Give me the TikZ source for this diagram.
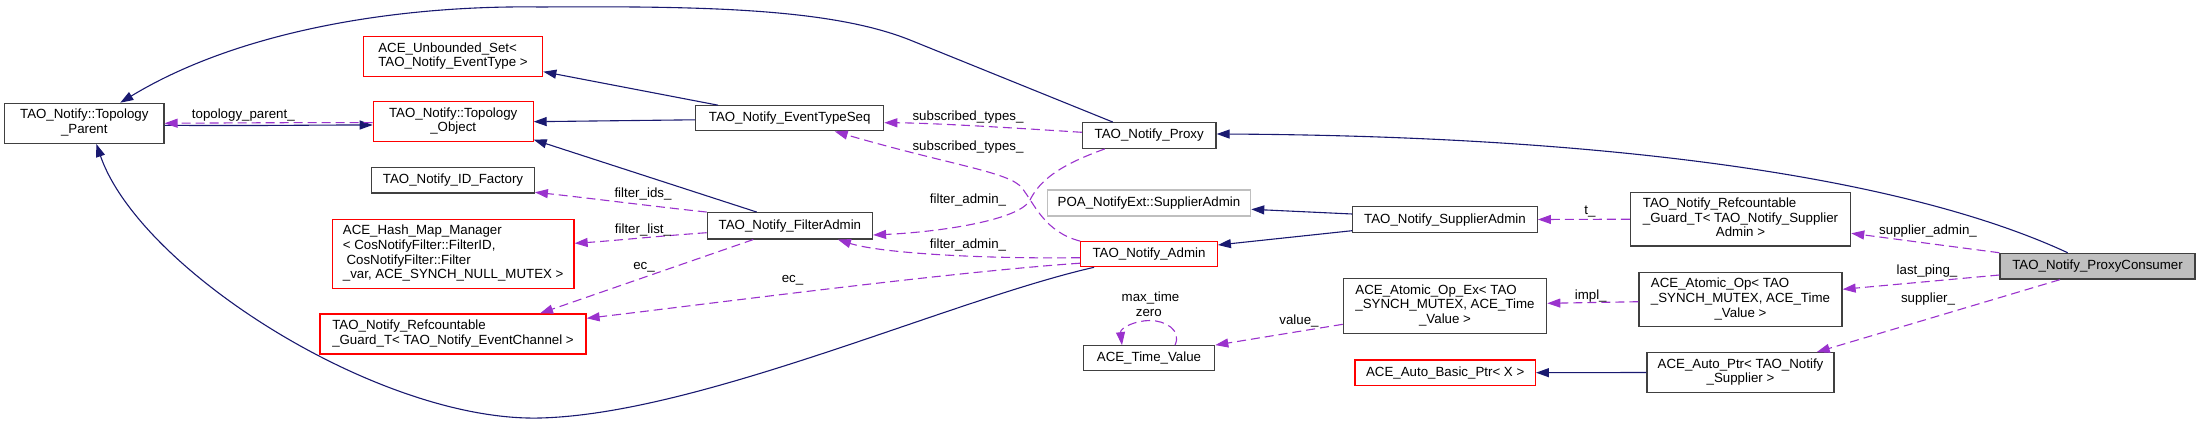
\documentclass[tikz,border=0pt]{standalone}
\usepackage{fontspec}
\setmainfont{Liberation Sans}
\usetikzlibrary{arrows.meta}
\definecolor{edgeblue}{HTML}{191970}
\definecolor{edgepurple}{HTML}{9A32CD}
\definecolor{boxred}{HTML}{FF0000}
\definecolor{boxgray}{HTML}{BFBFBF}
\definecolor{boxdark}{HTML}{404040}
\newcommand\dxl[1]{\begin{tabular}{@{}l@{}}#1\end{tabular}}
\newcommand\dxc[1]{\multicolumn{1}{@{}c@{}}{#1}}
\begin{document}
\begin{tikzpicture}[x=1pt,y=-1pt,
  font=\fontsize{13.3}{14.6}\selectfont,
  box/.style={rectangle, inner sep=0pt, line width=1.2pt, fill=white, align=center},
  one/.style={text height=10pt, text depth=3pt},
  blk/.style={box, draw=boxdark},
  redb/.style={box, draw=boxred},
  grayb/.style={box, draw=boxgray},
  inh/.style={draw=edgeblue, line width=1.1pt, -{Triangle[length=13pt,width=9pt]}},
  mem/.style={draw=edgepurple, line width=1.1pt, dash pattern=on 9pt off 5pt, -{Triangle[length=13pt,width=9pt]}},
  lab/.style={anchor=base, inner sep=0pt}
]
\useasboundingbox (0,0) rectangle (2200,425);

% ---------- nodes ----------
\node[blk, minimum width=159.3pt, minimum height=40pt] (tp) at (84.3,123.3) {\dxl{TAO\_Notify::Topology\\\dxc{\_Parent}}};
\node[redb, minimum width=179.5pt, minimum height=40pt] (ubs) at (453,56.7) {\dxl{ACE\_Unbounded\_Set<\\\dxc{ TAO\_Notify\_EventType >}}};
\node[redb, minimum width=159.8pt, minimum height=40pt] (to) at (453.2,121.7) {\dxl{TAO\_Notify::Topology\\\dxc{\_Object}}};
\node[blk, one, minimum width=162.6pt, minimum height=25.3pt] (idf) at (453,180.3) {TAO\_Notify\_ID\_Factory};
\node[redb, minimum width=241.7pt, minimum height=69pt] (hmm) at (453.2,253.8) {\dxl{ACE\_Hash\_Map\_Manager\\< CosNotifyFilter::FilterID,\\\hspace*{3.7pt}CosNotifyFilter::Filter\\\dxc{\_var, ACE\_SYNCH\_NULL\_MUTEX >}}};
\node[redb, minimum width=266pt, minimum height=40pt] (rgec) at (453,334) {\dxl{TAO\_Notify\_Refcountable\\\dxc{\_Guard\_T< TAO\_Notify\_EventChannel >}}};
\node[blk, one, minimum width=188pt, minimum height=25pt] (ets) at (789.7,118.3) {TAO\_Notify\_EventTypeSeq};
\node[blk, one, minimum width=165.2pt, minimum height=26.3pt] (fa) at (789.9,225.8) {TAO\_Notify\_FilterAdmin};
\node[blk, one, minimum width=133.7pt, minimum height=25.7pt] (proxy) at (1149.2,135.5) {TAO\_Notify\_Proxy};
\node[grayb, one, minimum width=203.4pt, minimum height=26pt] (poa) at (1149,203) {POA\_NotifyExt::SupplierAdmin};
\node[redb, one, minimum width=136.6pt, minimum height=25pt] (admin) at (1149,254.2) {TAO\_Notify\_Admin};
\node[blk, one, minimum width=184.6pt, minimum height=25.6pt] (sa) at (1445,219.5) {TAO\_Notify\_SupplierAdmin};
\node[blk, minimum width=203.4pt, minimum height=54.6pt] (aopex) at (1445,306) {\dxl{ACE\_Atomic\_Op\_Ex< TAO\\\_SYNCH\_MUTEX, ACE\_Time\\\dxc{\_Value >}}};
\node[blk, one, minimum width=131.4pt, minimum height=25pt] (tv) at (1149,358.2) {ACE\_Time\_Value};
\node[redb, one, minimum width=180.3pt, minimum height=25.3pt] (abp) at (1445.2,372.7) {ACE\_Auto\_Basic\_Ptr< X >};
\node[blk, minimum width=220.3pt, minimum height=53.7pt] (rgsa) at (1740.5,219.2) {\dxl{TAO\_Notify\_Refcountable\\\_Guard\_T< TAO\_Notify\_Supplier\\\dxc{Admin >}}};
\node[blk, minimum width=203.1pt, minimum height=54.4pt] (aop) at (1740.5,299.5) {\dxl{ACE\_Atomic\_Op< TAO\\\_SYNCH\_MUTEX, ACE\_Time\\\dxc{\_Value >}}};
\node[blk, minimum width=187pt, minimum height=39.6pt] (aptr) at (1740.5,372.5) {\dxl{ACE\_Auto\_Ptr< TAO\_Notify\\\dxc{\_Supplier >}}};
\node[blk, one, fill=boxgray, minimum width=195pt, minimum height=25.7pt] (pc) at (2097.5,266.2) {TAO\_Notify\_ProxyConsumer};

% ---------- inheritance (solid) ----------
\draw[inh] ([xshift=31pt]proxy.north west) -- (910,40) .. controls (830,8) and (700,6) .. (540,7) .. controls (400,5) and (240,30) .. ([xshift=36pt]tp.north);
\draw[inh] ([xshift=23pt]ets.north west) -- ([yshift=-15pt]ubs.east);
\draw[inh] ([yshift=-1.5pt]ets.west) -- (to.east);
\draw[inh] ([xshift=50pt]fa.north west) -- ([yshift=-18pt]to.east);
\draw[inh] ([yshift=-2pt]tp.east) .. controls (260,126) and (300,125) .. ([yshift=-3.3pt]to.west);
\draw[inh] ([xshift=14pt]admin.south west) .. controls (950,300) and (700,414) .. (540,418) .. controls (380,422) and (140,270) .. ([xshift=12pt]tp.south);
\draw[inh] ([yshift=5.5pt]sa.west) -- ([yshift=-6.3pt]poa.east);
\draw[inh] ([yshift=-11.2pt]sa.west) -- ([yshift=9.2pt]admin.east);
\draw[inh] ([xshift=68.3pt]pc.north west) .. controls (1900,175) and (1600,136) .. ([yshift=1.5pt]proxy.east);
\draw[inh] (aptr.west) -- (abp.east);

% ---------- members (dashed) ----------
\draw[mem] ([yshift=-1pt]to.west) .. controls (300,122.5) and (250,122.8) .. (tp.east);
\node[lab] (l1) at (243.3,119) {topology\_parent\_};

\draw[mem] ([yshift=3.2pt]proxy.west) .. controls (1000,127) and (930,123) .. ([yshift=-4.4pt]ets.east);
\node[lab] (l2) at (968,120.7) {subscribed\_types\_};

\draw[mem] (admin.north west) .. controls (1045,232) and (1035,205) .. (1022,188) .. controls (1010,172) and (950,165) .. ([xshift=45pt]ets.south);
\node[lab] (l3) at (968,150) {subscribed\_types\_};

\draw[mem] ([xshift=23pt]proxy.south west) .. controls (1060,165) and (1040,180) .. (1030,200) .. controls (1020,220) and (940,232) .. ([yshift=-9.2pt]fa.east);
\node[lab] (l4) at (968,203) {filter\_admin\_};

\draw[mem] ([yshift=-3.5pt]admin.west) .. controls (980,259) and (880,253) .. ([xshift=48pt]fa.south);
\node[lab] (l5) at (968,248.3) {filter\_admin\_};

\draw[mem] (fa.north west) .. controls (650,206) and (580,197) .. ([yshift=-12pt]idf.east);
\node[lab] (l6) at (643,197.3) {filter\_ids\_};

\draw[mem] ([yshift=-6.9pt]fa.west) .. controls (660,236) and (610,241) .. ([yshift=10.5pt]hmm.east);
\node[lab] (l7) at (643,233) {filter\_list\_};

\draw[mem] ([xshift=-36.6pt]fa.south) -- ([xshift=87pt]rgec.north);
\node[lab] (l8) at (644,269) {ec\_};

\draw[mem] ([yshift=-9pt]admin.west) .. controls (950,272) and (700,305) .. ([yshift=15.7pt]rgec.east);
\node[lab] (l9) at (792.5,282.3) {ec\_};

\draw[mem] (pc.north west) -- ([yshift=-14.1pt]rgsa.east);
\node[lab] (l10) at (1928,234) {supplier\_admin\_};

\draw[mem] (rgsa.west) -- (sa.east);
\node[lab] (l11) at (1590,214) {t\_};

\draw[mem] ([yshift=-8.8pt]pc.west) -- ([yshift=10.2pt]aop.east);
\node[lab] (l12) at (1927,274) {last\_ping\_};

\draw[mem] ([xshift=-37.5pt]pc.south) -- ([xshift=76.2pt]aptr.north);
\node[lab] (l13) at (1928,302.3) {supplier\_};

\draw[mem] ([yshift=-2.2pt]aop.west) -- ([yshift=2.7pt]aopex.east);
\node[lab] (l14) at (1590.7,299) {impl\_};

\draw[mem] ([yshift=-18.3pt]aopex.west) -- (tv.north east);
\node[lab] (l15) at (1299,324.7) {value\_};

\draw[mem] ([xshift=26pt]tv.north) .. controls (1182,330) and (1165,320.5) .. (1150,320.5) .. controls (1135,320.5) and (1120,328) .. ([xshift=-27pt]tv.north);
\node[lab] (l16) at (1150.5,301.7) {max\_time};
\node[lab] (l17) at (1148.8,316.7) {zero};
\end{tikzpicture}
\end{document}
